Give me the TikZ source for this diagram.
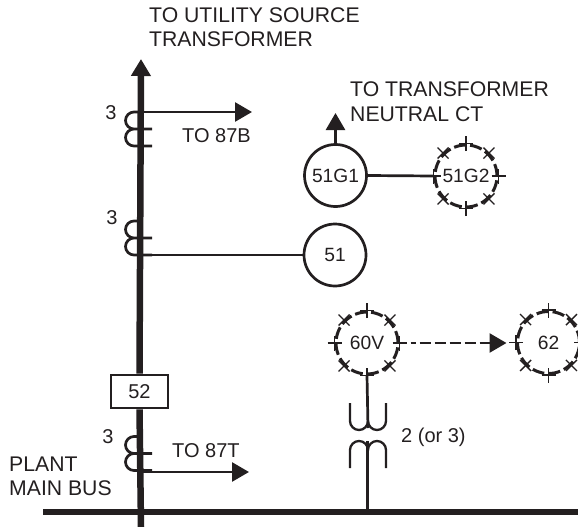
\documentclass[tikz,border=0pt]{standalone}
\usepackage{fontspec}
\setmainfont{Liberation Sans}
\usetikzlibrary{arrows.meta}
\definecolor{ink}{HTML}{231F20}
\tikzset{
  lbl/.style={inner sep=0pt,text=ink,font=\fontsize{20}{24}\selectfont},
  lft/.style={lbl,anchor=west},
  lng/.style={lft,font=\fontsize{21.2}{24}\selectfont},
  wire/.style={draw=ink,line width=2.7pt},
  thinwire/.style={draw=ink,line width=2.3pt},
  bus/.style={draw=ink,line width=6.5pt},
  tipped/.style={-{Triangle[length=17pt,width=19pt,color=ink]}},
  relay/.style={circle,draw=ink,line width=2.7pt,minimum size=62pt,inner sep=0pt,text=ink,font=\fontsize{19.2}{24}\selectfont},
  dashrelay/.style={relay,line width=3pt,dash pattern=on 12.2pt off 4pt},
  brk/.style={rectangle,draw=ink,line width=2.7pt,minimum width=57pt,minimum height=33pt,inner sep=0pt,text=ink,font=\fontsize{20}{24}\selectfont},
  tickline/.style={draw=ink,line width=1.4pt}
}
\newcommand{\relaymarks}[1]{%
  \foreach \a in {0,90,180,270}{
    \draw[tickline] (#1.\a) ++(-7pt,0) -- ++(14pt,0);
    \draw[tickline] (#1.\a) ++(0,-7.5pt) -- ++(0,15pt);
  }
  \foreach \a in {45,135,225,315}{
    \draw[tickline] (#1.\a) ++(-5.5pt,-5.5pt) -- ++(11pt,11pt);
    \draw[tickline] (#1.\a) ++(-5.5pt,5.5pt) -- ++(11pt,-11pt);
  }
}
\newcommand{\ctcoil}[1]{%
  \draw[wire] (141,#1) -- ++(-7,0) arc[start angle=90,end angle=270,radius=8.5pt] -- ++(18,0)
   ++(-18,0) arc[start angle=90,end angle=270,radius=8.5pt] -- ++(18,0);
}
\begin{document}
\begin{tikzpicture}[x=1pt,y=-1pt]
\useasboundingbox (0,0) rectangle (578,527);
\clip (0,0) rectangle (578,527);
% nodes
\coordinate (bustop) at (141,59);
\coordinate (busbot) at (141,527);
\coordinate (mainl) at (43,512);
\coordinate (mainr) at (578,512);
\node[brk,fill=white] (b52) at (139.5,391.5) {52};
\node[relay] (g1) at (335.5,175.5) {51G1};
\node[dashrelay] (g2) at (466,176) {51G2};
\node[relay] (r51) at (335,255) {51};
\node[dashrelay] (v60) at (367,343) {60V};
\node[dashrelay] (r62) at (548.5,342.5) {62};
\coordinate (ct1a) at (141,112);
\coordinate (ct1e) at (252,112);
\coordinate (ct2c) at (141,255);
\coordinate (ct3a) at (141,472);
\coordinate (ct3e) at (249,472);
\coordinate (g1up) at (335.5,113);
\coordinate (tbus) at (367.5,512);
\coordinate (tsec) at (368,428);
\coordinate (tpri) at (367.5,441);
% connectors
\draw[bus] (busbot) -- (b52.south);
\draw[bus,tipped] (b52.north) -- (bustop);
\draw[bus] (mainl) -- (mainr);
\ctcoil{112}
\ctcoil{221}
\ctcoil{436.5}
\draw[wire,tipped] (ct1a) -- (ct1e);
\draw[wire] (ct2c) -- (r51.west);
\draw[wire,tipped] (ct3a) -- (ct3e);
\draw[wire,tipped] (g1.north) -- (g1up);
\draw[wire] (g1.east) -- (g2.west);
\draw[wire,tipped,shorten >=9.5pt,dash pattern=on 5pt off 6pt on 5pt off 4pt on 11pt off 4pt on 11pt off 4pt on 11pt off 4pt on 11pt off 4pt on 11pt off 4pt on 30pt off 4pt]
   (v60.east) -- (r62.west |- v60.east);
\draw[wire] (v60.south) -- (tsec);
\draw[wire] (tbus) -- (tpri);
% transformer
\draw[thinwire] (350,403) -- (350,421) arc[start angle=180,end angle=360,radius=9pt]
   arc[start angle=180,end angle=360,radius=9pt] -- (386,403);
\draw[thinwire] (350,468) -- (350,450) arc[start angle=180,end angle=0,radius=9pt]
   arc[start angle=180,end angle=0,radius=9pt] -- (386,468);
\relaymarks{g2}
\relaymarks{v60}
\relaymarks{r62}
% text
\node[lng] (t1) at (149,15) {TO UTILITY SOURCE};
\node[lng] (t2) at (149,39) {TRANSFORMER};
\node[lng] (t3) at (350,89) {TO TRANSFORMER};
\node[lng] (t4) at (350,114) {NEUTRAL CT};
\node[lft] (t5) at (182,136) {TO 87B};
\node[lft] (t6) at (172,451) {TO 87T};
\node[lng] (t7) at (9,464) {PLANT};
\node[lng] (t8) at (9,488) {MAIN BUS};
\node[lbl] (n1) at (111,113) {3};
\node[lbl] (n2) at (112,218) {3};
\node[lbl] (n3) at (108,437) {3};
\node[lft] (n4) at (401,437) {2 (or 3)};
\end{tikzpicture}
\end{document}
